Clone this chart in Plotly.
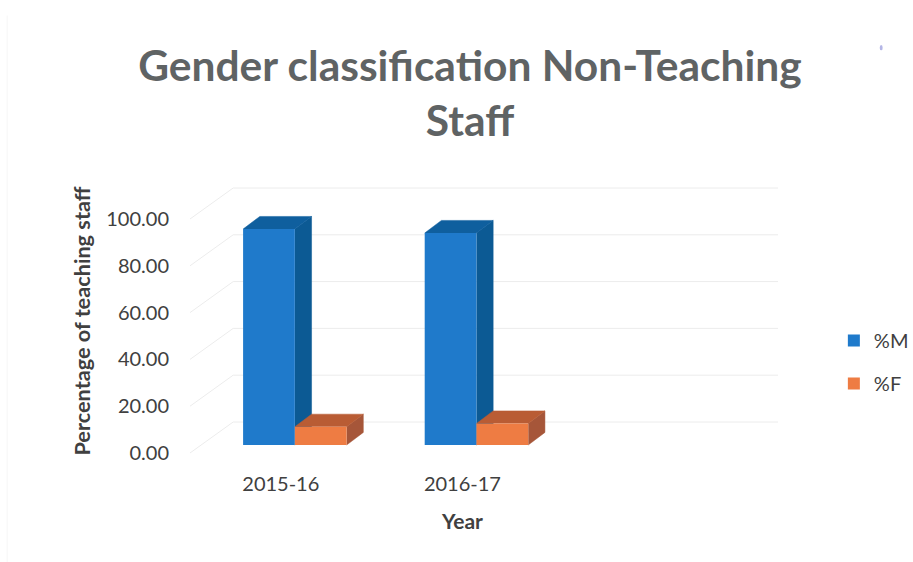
import plotly.graph_objects as go

# ---- data ----
categories = ["2015-16", "2016-17"]
male_pct = [92.3, 90.6]
female_pct = [7.8, 9.2]
y_ticks = [0, 20, 40, 60, 80, 100]
y_tick_labels = ["0.00", "20.00", "40.00", "60.00", "80.00", "100.00"]

# ---- styling / pseudo-3D parameters (axis units) ----
X_MIN, X_END, Y_MIN, Y_MAX = -0.5, 2.7376, -0.855, 113.68
BACK_DX, BACK_DY = 0.2376, 13.25      # depth of the chart box
BAR_DX, BAR_DY = 0.092, 5.4           # depth of each bar
BAR_W = 0.285
GROUP_SHIFT = 0.0773
BASE = 3.4
FONT = "Lato"
TXT = "#404040"
GRID = "#ececec"
C_M = ("#1f7acb", "#0f5f9e", "#0c5a94")
C_F = ("#ee7c43", "#b95c34", "#a65639")

fig = go.Figure()

# gridlines: front-left diagonal + back wall line, through the y scale
gx, gy = [], []
for v in y_ticks:
    gx += [X_MIN, X_MIN + BACK_DX, 2.5 + BACK_DX, None]
    gy += [v, v + BACK_DY, v + BACK_DY, None]
fig.add_trace(go.Scatter(x=gx, y=gy, mode="lines", line=dict(color=GRID, width=1),
                         showlegend=False, hoverinfo="skip", zorder=0))


def poly(xs, ys, color, z):
    fig.add_trace(go.Scatter(x=xs, y=ys, mode="lines", fill="toself", fillcolor=color,
                             line=dict(color=color, width=0.5), showlegend=False,
                             hoverinfo="skip", zorder=z))


def series(name, values, colors, sign, z):
    centers = [i + GROUP_SHIFT + sign * BAR_W / 2 for i in range(len(values))]
    for c, v in zip(centers, values):
        l, r, t = c - BAR_W / 2, c + BAR_W / 2, BASE + v
        poly([r, r + BAR_DX, r + BAR_DX, r], [BASE, BASE + BAR_DY, t + BAR_DY, t], colors[2], z)
        poly([l, l + BAR_DX, r + BAR_DX, r], [t, t + BAR_DY, t + BAR_DY, t], colors[1], z)
    fig.add_trace(go.Bar(x=centers, y=values, base=BASE, width=BAR_W, name=name,
                         marker=dict(color=colors[0], line=dict(width=0)),
                         legendgroup=name, zorder=z + 1))


series("%M", male_pct, C_M, -1, 1)
series("%F", female_pct, C_F, 1, 3)

fig.update_layout(
    width=913, height=562, autosize=False,
    margin=dict(l=190, r=135, t=187, b=107, autoexpand=False),
    paper_bgcolor="white", plot_bgcolor="rgba(0,0,0,0)",
    barmode="overlay",
    font=dict(family=FONT, color=TXT, size=20),
    title=dict(text="<b>Gender classification Non-Teaching<br>Staff</b>",
               font=dict(family=FONT, size=42.5, color="#5f6364"),
               x=470 / 913, xanchor="center", y=0.856, yanchor="top"),
    xaxis=dict(range=[X_MIN, X_END], tickvals=list(range(len(categories))), ticktext=categories,
               automargin=False,
               showgrid=False, zeroline=False, showline=False, ticks="", ticklabelstandoff=15,
               tickfont=dict(size=20, color=TXT)),
    yaxis=dict(range=[Y_MIN, Y_MAX], tickvals=y_ticks, ticktext=y_tick_labels,
               automargin=False,
               showgrid=False, zeroline=False, showline=False, ticks="", ticklabelstandoff=20,
               tickfont=dict(size=20, color=TXT),
               title=dict(text="<b>Percentage of teaching staff</b>",
                          font=dict(size=21.7, color=TXT), standoff=9)),
    annotations=[dict(text="<b>Year</b>", xref="x", yref="paper", x=1, y=-0.245,
                      xanchor="center", yanchor="middle", showarrow=False,
                      font=dict(size=21, color=TXT))],
    legend=dict(x=1.095, xanchor="left", y=0.347, yanchor="middle", tracegroupgap=14,
                font=dict(size=20, color=TXT), bgcolor="rgba(0,0,0,0)"),
    shapes=[
        dict(type="line", xref="paper", yref="paper", x0=-0.311, x1=-0.311, y0=-0.4, y1=1.64,
             line=dict(color="#f6f6f6", width=1)),
        dict(type="circle", xref="paper", yref="paper", x0=1.173, x1=1.178, y0=1.51, y1=1.53,
             fillcolor="#b4b6e6", line=dict(width=0)),
    ],
)

fig.write_html("out.html",
               config={"displayModeBar": False},
               post_script="document.body.style.margin='0';"
                           "document.documentElement.style.overflow='hidden';")
